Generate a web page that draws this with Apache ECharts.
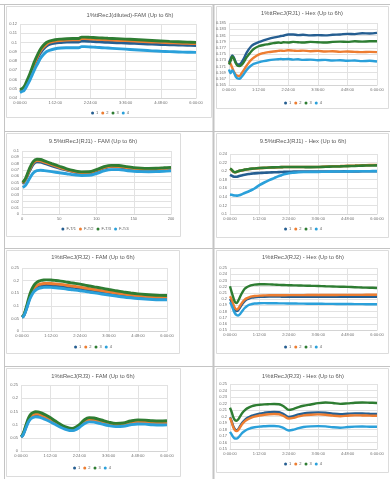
<!DOCTYPE html>
<html><head><meta charset="utf-8">
<script src="https://cdn.jsdelivr.net/npm/echarts@6/dist/echarts.min.js"></script>
<style>html,body{margin:0;padding:0;background:#fff}#c{width:390px;height:479px}</style>
</head><body><div id="c"></div>
<script>
// ---------------- DATA ----------------
const chartTitles = [
  '1%ttRecJ(diluted)-FAM (Up to 6h)',
  '1%ttRecJ(RJ1) - Hex (Up to 6h)',
  '9.5%ttRecJ(RJ1) - FAM (Up to 6h)',
  '9.5%ttRecJ(RJ1) - Hex (Up to 6h)',
  '1%ttRecJ(RJ2) - FAM (Up to 6h)',
  '1%ttRecJ(RJ2) - Hex (Up to 6h)',
  '1%ttRecJ(RJ3) - FAM (Up to 6h)',
  '1%ttRecJ(RJ3) - Hex (Up to 6h)'
];
const timeLegend = ['1', '2', '3', '4'];
const cycleLegend = ['F-T/1', 'F-T/2', 'F-T/3', 'F-T/4'];

// minutes since start (x values for time charts)
const timeMinutes = [0,4,8,12,16,20,25,30,36,42,48,54,60,72,84,96,108,120,126,132,144,156,168,180,198,216,234,252,270,288,306,324,342,360];
// cycles (x values for 9.5% FAM chart)
const c3Cycles = [1,5,10,15,20,25,30,40,50,60,70,80,90,100,110,120,130,140,150,160,170,180,190,200];

const c1S1 = [0.047,0.048,0.050,0.053,0.057,0.062,0.069,0.076,0.083,0.089,0.093,0.096,0.098,0.0995,0.1,0.1005,0.1005,0.1005,0.1015,0.1015,0.1012,0.1008,0.1005,0.1002,0.0998,0.0994,0.099,0.0986,0.0982,0.0979,0.0976,0.0973,0.097,0.0968];
const c1S2 = [0.048,0.049,0.051,0.054,0.059,0.064,0.071,0.078,0.085,0.091,0.095,0.098,0.1,0.1015,0.1022,0.1026,0.1028,0.1028,0.1042,0.1042,0.1038,0.1034,0.1031,0.1028,0.1024,0.102,0.1016,0.1011,0.1006,0.1002,0.0998,0.0994,0.0991,0.0988];
const c1S3 = [0.049,0.05,0.052,0.056,0.061,0.066,0.073,0.08,0.087,0.093,0.097,0.1,0.1015,0.103,0.1037,0.1041,0.1043,0.1044,0.1058,0.1058,0.1055,0.1052,0.1049,0.1046,0.1042,0.1037,0.1032,0.1027,0.1022,0.1017,0.1012,0.1008,0.1004,0.1001];
const c1S4 = [0.046,0.047,0.048,0.051,0.055,0.059,0.065,0.071,0.077,0.083,0.087,0.09,0.0915,0.0932,0.094,0.0943,0.0944,0.0944,0.0955,0.0955,0.0952,0.0948,0.0944,0.094,0.0934,0.0928,0.0922,0.0916,0.091,0.0905,0.0901,0.0898,0.0895,0.0893];

const c2S1 = [0.1722,0.1735,0.1745,0.1738,0.1725,0.1717,0.1716,0.1722,0.1735,0.1752,0.1765,0.1775,0.1781,0.1788,0.1794,0.1799,0.1803,0.1806,0.1808,0.1809,0.1813,0.1813,0.1811,0.1812,0.181,0.1811,0.181,0.1812,0.1813,0.1815,0.1814,0.1817,0.1816,0.1818];
const c2S2 = [0.1726,0.1718,0.1705,0.1693,0.1684,0.168,0.1679,0.1686,0.1698,0.1711,0.1722,0.1731,0.1738,0.1748,0.1753,0.1756,0.1758,0.176,0.1761,0.176,0.1762,0.1761,0.176,0.1761,0.1759,0.176,0.1758,0.1759,0.1757,0.1758,0.1757,0.1756,0.1757,0.1756];
const c2S3 = [0.1716,0.1728,0.1742,0.1735,0.1722,0.1713,0.1711,0.1714,0.1724,0.1738,0.1748,0.1758,0.1766,0.1775,0.1779,0.1782,0.1785,0.1787,0.1786,0.1788,0.1787,0.1789,0.1788,0.1787,0.1789,0.1788,0.1787,0.1789,0.179,0.1789,0.1791,0.179,0.1791,0.1791];
const c2S4 = [0.17,0.1688,0.1697,0.169,0.1678,0.1672,0.167,0.1675,0.1685,0.1697,0.1706,0.1713,0.1718,0.1723,0.1727,0.173,0.1732,0.1733,0.1734,0.1733,0.1734,0.1732,0.1733,0.1731,0.1732,0.173,0.1731,0.1729,0.173,0.1728,0.1729,0.1727,0.1728,0.1726];

const c3S1 = [0.048,0.055,0.068,0.079,0.083,0.0825,0.0805,0.0765,0.0728,0.0695,0.0665,0.0648,0.065,0.0685,0.0728,0.0748,0.0745,0.0728,0.0712,0.0703,0.07,0.0702,0.0708,0.0716];
const c3S2 = [0.049,0.056,0.07,0.081,0.085,0.0845,0.0823,0.0782,0.0742,0.0705,0.0675,0.0657,0.0659,0.0695,0.0738,0.0758,0.0755,0.0738,0.0722,0.0713,0.071,0.0712,0.0718,0.0726];
const c3S3 = [0.05,0.057,0.072,0.083,0.087,0.0865,0.0843,0.08,0.0758,0.0718,0.0688,0.0668,0.067,0.0705,0.075,0.0772,0.077,0.0752,0.0737,0.0728,0.0725,0.0727,0.0733,0.074];
const c3S4 = [0.042,0.046,0.056,0.065,0.069,0.0695,0.0688,0.0672,0.0655,0.0638,0.0622,0.0612,0.0614,0.0643,0.0683,0.0705,0.0704,0.069,0.0678,0.0672,0.067,0.0672,0.0678,0.0686];

const c4S1 = [0.1915,0.1895,0.1875,0.1868,0.187,0.1878,0.189,0.1905,0.1918,0.1928,0.1935,0.1942,0.1948,0.1955,0.1962,0.1968,0.1973,0.1978,0.198,0.1982,0.1986,0.1988,0.1989,0.199,0.199,0.199,0.1991,0.1992,0.1993,0.1994,0.1995,0.1996,0.1996,0.1997];
const c4S2 = [0.2052,0.2025,0.1985,0.1972,0.198,0.1995,0.2008,0.2018,0.2032,0.2042,0.205,0.2056,0.206,0.207,0.2076,0.2083,0.2087,0.2091,0.2093,0.2095,0.2097,0.2098,0.2097,0.2096,0.2095,0.2098,0.2106,0.2113,0.2118,0.2124,0.2129,0.2135,0.214,0.2144];
const c4S3 = [0.2058,0.2035,0.199,0.1975,0.1985,0.2,0.2012,0.202,0.2035,0.2045,0.2052,0.2058,0.2062,0.2072,0.2078,0.2085,0.2088,0.2092,0.2094,0.2096,0.2098,0.2098,0.2097,0.2095,0.2093,0.2095,0.2102,0.2108,0.2112,0.2118,0.2122,0.2128,0.2132,0.2135];
const c4S4 = [0.1455,0.1448,0.1438,0.1432,0.1428,0.1432,0.1445,0.1465,0.149,0.1512,0.1538,0.1565,0.1595,0.1672,0.1735,0.179,0.1838,0.1885,0.1905,0.1925,0.1952,0.1965,0.1975,0.198,0.1982,0.1984,0.1987,0.199,0.1992,0.1994,0.1996,0.1998,0.1999,0.2];

const c5S1 = [0.055,0.06,0.075,0.094,0.115,0.134,0.151,0.163,0.1715,0.176,0.1785,0.1798,0.1803,0.1798,0.1782,0.1762,0.1738,0.171,0.17,0.1688,0.1662,0.1632,0.1602,0.1573,0.153,0.1485,0.1444,0.1405,0.1372,0.1343,0.132,0.1303,0.1293,0.1288];
const c5S2 = [0.055,0.061,0.077,0.097,0.119,0.139,0.157,0.17,0.179,0.1845,0.187,0.1885,0.189,0.1885,0.187,0.1848,0.1822,0.179,0.178,0.1768,0.1742,0.1708,0.1675,0.1645,0.16,0.155,0.1505,0.1462,0.1425,0.1393,0.1368,0.135,0.1338,0.1333];
const c5S3 = [0.055,0.062,0.08,0.102,0.126,0.148,0.168,0.182,0.192,0.198,0.201,0.2025,0.203,0.2025,0.2005,0.198,0.195,0.1915,0.1905,0.189,0.186,0.182,0.1785,0.175,0.17,0.1645,0.1595,0.155,0.151,0.1475,0.1448,0.1428,0.1415,0.141];
const c5S4 = [0.054,0.059,0.073,0.091,0.111,0.129,0.145,0.157,0.165,0.1695,0.1718,0.173,0.1735,0.173,0.1715,0.1695,0.1672,0.1645,0.1635,0.1623,0.1598,0.157,0.154,0.1512,0.147,0.1428,0.1388,0.135,0.1318,0.129,0.1268,0.1252,0.1242,0.1238];

const c6S1 = [0.2,0.195,0.188,0.1825,0.1805,0.1818,0.1865,0.1918,0.1965,0.1995,0.2012,0.2022,0.2028,0.2034,0.2037,0.2038,0.2038,0.2038,0.2037,0.2037,0.2037,0.2036,0.2036,0.2036,0.2035,0.2035,0.2035,0.2035,0.2035,0.2035,0.2035,0.2035,0.2035,0.2035];
const c6S2 = [0.2045,0.199,0.1915,0.1855,0.183,0.1845,0.1895,0.1945,0.199,0.2015,0.2032,0.2042,0.2048,0.2055,0.2058,0.206,0.206,0.2061,0.206,0.2061,0.2062,0.2062,0.2063,0.2063,0.2064,0.2064,0.2065,0.2065,0.2066,0.2066,0.2067,0.2067,0.2068,0.2068];
const c6S3 = [0.2205,0.211,0.2025,0.1955,0.1935,0.197,0.204,0.2105,0.2165,0.2195,0.2213,0.2225,0.2232,0.2237,0.2238,0.2236,0.2232,0.2228,0.2226,0.2225,0.2222,0.222,0.2218,0.2216,0.2213,0.221,0.2205,0.2202,0.2198,0.2195,0.219,0.2185,0.2182,0.2178];
const c6S4 = [0.1948,0.1895,0.1825,0.177,0.1742,0.1735,0.176,0.1805,0.1855,0.1888,0.1908,0.192,0.1927,0.1932,0.1933,0.1932,0.1931,0.193,0.1929,0.1929,0.1928,0.1927,0.1926,0.1925,0.1924,0.1923,0.1922,0.1921,0.192,0.1919,0.1918,0.1917,0.1916,0.1915];

const c7S1 = [0.0535,0.059,0.073,0.09,0.106,0.119,0.128,0.1325,0.1345,0.1342,0.132,0.1285,0.1245,0.1155,0.105,0.0945,0.0858,0.0805,0.0798,0.0812,0.0922,0.1075,0.1145,0.1135,0.107,0.1002,0.096,0.097,0.103,0.1065,0.1058,0.1035,0.1022,0.1028];
const c7S2 = [0.054,0.06,0.075,0.093,0.11,0.123,0.133,0.138,0.14,0.1395,0.137,0.133,0.1288,0.1195,0.1085,0.0975,0.0885,0.083,0.0823,0.0838,0.0955,0.112,0.1195,0.1182,0.1115,0.104,0.0995,0.1005,0.107,0.1108,0.1098,0.1072,0.1062,0.1068];
const c7S3 = [0.055,0.062,0.078,0.097,0.115,0.13,0.141,0.146,0.1485,0.148,0.1455,0.1415,0.137,0.1265,0.1145,0.1025,0.0925,0.0865,0.0858,0.0875,0.1,0.118,0.1265,0.125,0.1175,0.1095,0.1045,0.106,0.1135,0.118,0.117,0.1145,0.1135,0.1145];
const c7S4 = [0.053,0.058,0.071,0.087,0.102,0.114,0.123,0.1275,0.1292,0.129,0.1268,0.1235,0.1195,0.111,0.101,0.091,0.0828,0.0778,0.0772,0.0785,0.089,0.1035,0.1102,0.1092,0.103,0.0965,0.0925,0.0935,0.0993,0.1025,0.1018,0.0995,0.0983,0.099];

const c8S1 = [0.199,0.193,0.185,0.1805,0.179,0.1805,0.1855,0.1905,0.1945,0.1975,0.1995,0.2012,0.2025,0.2045,0.2057,0.2065,0.207,0.2065,0.2052,0.2035,0.1995,0.2008,0.2032,0.2047,0.2058,0.2063,0.2058,0.2043,0.2035,0.2042,0.2048,0.2046,0.2042,0.204];
const c8S2 = [0.198,0.1915,0.1835,0.179,0.1775,0.179,0.1838,0.1885,0.1925,0.1952,0.197,0.1985,0.1997,0.2015,0.2027,0.2035,0.2038,0.2034,0.2022,0.2005,0.1968,0.198,0.2003,0.2018,0.2028,0.2032,0.2027,0.2013,0.2005,0.2012,0.2018,0.2016,0.2013,0.2012];
const c8S3 = [0.2135,0.207,0.199,0.1945,0.1935,0.1955,0.2005,0.2055,0.2095,0.2125,0.2145,0.216,0.217,0.218,0.2187,0.219,0.2192,0.2188,0.2175,0.2155,0.2102,0.2118,0.2145,0.2165,0.2185,0.2205,0.2215,0.2208,0.2195,0.2202,0.2212,0.2215,0.2212,0.2208];
const c8S4 = [0.1765,0.1725,0.1685,0.1662,0.166,0.1675,0.171,0.1748,0.1778,0.18,0.1815,0.1827,0.1835,0.1845,0.185,0.1853,0.1853,0.1848,0.1835,0.182,0.1785,0.1798,0.1822,0.1838,0.1848,0.1852,0.1848,0.1835,0.1828,0.1838,0.1845,0.1846,0.1843,0.1842];

// axis ranges per chart [min, max, interval]
const yRanges = [[0.04,0.12,0.01],[0.165,0.185,0.001],[0,0.1,0.01],[0.1,0.24,0.02],[0,0.25,0.05],[0.15,0.25,0.01],[0,0.25,0.05],[0.15,0.25,0.01]];
const timeRange = [0, 360, 72];
const cycleRange = [0, 200, 50];

// ---------------- LAYOUT / STYLE ----------------
const seriesColors = ['#255E91', '#ED7D31', '#2E7D32', '#2AA0DA'];
const layout = [
  {left:20, top:24, width:176, height:74, tx:130, ty:15, lx:110, ly:113, lw:2.9},
  {left:229,top:23, width:148, height:62, tx:302, ty:13, lx:303, ly:103, lw:2.4},
  {left:22, top:151,width:149, height:63, tx:93,  ty:141,lx:95,  ly:229, lw:2.9},
  {left:230,top:154,width:147, height:60, tx:303, ty:141,lx:303, ly:229, lw:2.6},
  {left:22, top:268,width:145, height:63, tx:93,  ty:257,lx:93,  ly:347, lw:2.9},
  {left:230,top:268,width:147, height:62, tx:303, ty:257,lx:303, ly:347, lw:2.4},
  {left:21, top:385,width:146, height:66, tx:93,  ty:376,lx:92,  ly:468, lw:2.9},
  {left:230,top:384,width:147, height:65, tx:303, ty:376,lx:303, ly:464, lw:2.4}
];
const charts = [
  {x: timeMinutes, ys: [c1S1,c1S2,c1S3,c1S4], names: timeLegend, xr: timeRange},
  {x: timeMinutes, ys: [c2S1,c2S2,c2S3,c2S4], names: timeLegend, xr: timeRange, alt: true},
  {x: c3Cycles,    ys: [c3S1,c3S2,c3S3,c3S4], names: cycleLegend, xr: cycleRange},
  {x: timeMinutes, ys: [c4S1,c4S2,c4S3,c4S4], names: timeLegend, xr: timeRange},
  {x: timeMinutes, ys: [c5S1,c5S2,c5S3,c5S4], names: timeLegend, xr: timeRange},
  {x: timeMinutes, ys: [c6S1,c6S2,c6S3,c6S4], names: timeLegend, xr: timeRange},
  {x: timeMinutes, ys: [c7S1,c7S2,c7S3,c7S4], names: timeLegend, xr: timeRange},
  {x: timeMinutes, ys: [c8S1,c8S2,c8S3,c8S4], names: timeLegend, xr: timeRange}
];

const FONT = "'Liberation Sans', Arial, sans-serif";
const labelColor = '#707070';
const gridColor = '#e2e2e2';
const fmtTime = v => { const h = Math.floor(v / 60), m = Math.round(v % 60); return h + ':' + String(m).padStart(2, '0') + ':00'; };

const measure = (() => { const c = document.createElement('canvas').getContext('2d'); c.font = '4px ' + FONT; return t => c.measureText(t).width; })();
const LEG_ICON = 3, LEG_GAP = 3;
const legendWidth = names => names.reduce((s, n) => s + LEG_ICON + 5 - 3 + measure(n), 0) + LEG_GAP * (names.length - 1);

const option = {
  animation: false,
  backgroundColor: '#fff',
  title: [], legend: [], grid: [], xAxis: [], yAxis: [], series: [],
  graphic: []
};

// sheet frame and chart boxes
const bg = [];
const boxes = [[6,6,205,111],[216,6,172,102],[6,133,174,103],[216,133,172,104],[6,250,173,103],[216,250,172,103],[6,368,174,108],[216,368,172,104]];
boxes.forEach(b => bg.push({type:'rect', shape:{x:b[0]+0.5,y:b[1]+0.5,width:b[2],height:b[3]}, style:{fill:'#fff', stroke:'#dcdcdc', lineWidth:1}, z:-10}));
[[0,4.5,390,4.5],[4.5,4,4.5,479],[213.5,4,213.5,479],[4,131.5,390,131.5],[4,248.5,390,248.5],[4,366.5,390,366.5]].forEach(l =>
  bg.push({type:'line', shape:{x1:l[0],y1:l[1],x2:l[2],y2:l[3]}, style:{stroke:'#c4c4c4', lineWidth: l[0]===213.5 ? 2 : 1}, z:-5}));
option.graphic = bg;

charts.forEach((ch, i) => {
  const L = layout[i];
  const yr = yRanges[i];
  option.grid.push({left: L.left, top: L.top, width: L.width, height: L.height, containLabel: false});
  option.title.push({
    text: chartTitles[i], left: L.tx, top: L.ty, textAlign: 'center', textVerticalAlign: 'middle', padding: 0,
    textStyle: {fontSize: 5.8, fontWeight: 'normal', color: '#595959', fontFamily: FONT}
  });
  const lw = legendWidth(ch.names);
  option.legend.push({
    data: ch.names.map((n, k) => ({name: n, itemStyle: {color: seriesColors[k]}})),
    left: L.lx - lw / 2, top: L.ly - 2, padding: 0, itemWidth: LEG_ICON, itemHeight: LEG_ICON, itemGap: LEG_GAP,
    icon: 'circle', selectedMode: false,
    textStyle: {fontSize: 4, color: '#595959', fontFamily: FONT, padding: [0, 0, 0, -3]}
  });
  option.xAxis.push({
    type: 'value', gridIndex: i, min: ch.xr[0], max: ch.xr[1], interval: ch.xr[2],
    axisLine: {show: true, lineStyle: {color: '#d4d4d4'}}, axisTick: {show: false},
    splitLine: {show: true, lineStyle: {color: gridColor, width: 1}},
    axisLabel: {fontSize: 4, color: labelColor, fontFamily: FONT, margin: 3,
      formatter: ch.xr === timeRange ? fmtTime : (v => String(v))}
  });
  option.yAxis.push({
    type: 'value', gridIndex: i, min: yr[0], max: yr[1], interval: yr[2],
    axisLine: {show: false}, axisTick: {show: false},
    splitLine: {show: true, lineStyle: {color: ch.alt ? [gridColor, 'rgba(0,0,0,0)'] : gridColor, width: 1}},
    axisLabel: {fontSize: 4, color: labelColor, fontFamily: FONT, margin: 3,
      formatter: ch.alt ? (v => (Math.round(v * 1000) % 2 === 1 ? v.toFixed(3) : '')) : undefined}
  });
  ch.ys.forEach((vals, k) => {
    option.series.push({
      type: 'line', name: ch.names[k], xAxisIndex: i, yAxisIndex: i,
      data: ch.x.map((xv, j) => [xv, vals[j]]),
      smooth: 0.35, showSymbol: false, symbol: 'none',
      lineStyle: {color: seriesColors[k], width: L.lw},
      itemStyle: {color: seriesColors[k]},
      z: 2 + k
    });
  });
});

const chart = echarts.init(document.getElementById('c'), null, {renderer: 'canvas', width: 390, height: 479});
chart.setOption(option);
</script>
</body></html>
